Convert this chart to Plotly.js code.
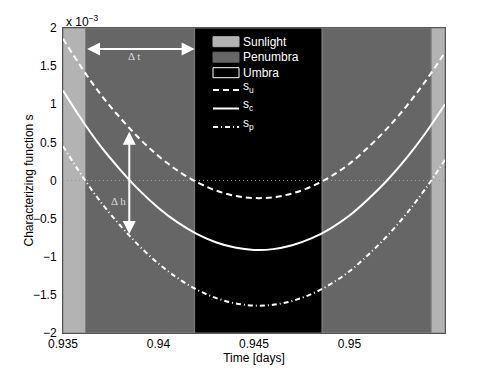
<!DOCTYPE html>
<html>
<head>
<meta charset="utf-8">
<script src="https://cdn.plot.ly/plotly-3.0.1.min.js"></script>
<style>
  html, body { margin: 0; padding: 0; background: #fff; }
  #chart1 { width: 491px; height: 376px; }
</style>
</head>
<body>
<div id="chart1"></div>
<script>
// values, y in units of 1e-3
var times = [0.935, 0.936, 0.937, 0.938, 0.939, 0.940, 0.941, 0.942, 0.943, 0.944, 0.945,
             0.946, 0.947, 0.948, 0.949, 0.950, 0.951, 0.952, 0.953, 0.954, 0.955];
var s_u = [1.86, 1.47, 1.12, 0.82, 0.55, 0.32, 0.13, -0.02, -0.13, -0.20, -0.23,
           -0.22, -0.17, -0.08, 0.05, 0.22, 0.44, 0.69, 0.98, 1.31, 1.68];
var s_c = [1.18, 0.79, 0.44, 0.14, -0.13, -0.36, -0.55, -0.70, -0.81, -0.88, -0.91,
           -0.90, -0.85, -0.76, -0.63, -0.46, -0.24, 0.01, 0.30, 0.63, 1.00];
var s_p = [0.45, 0.06, -0.29, -0.59, -0.86, -1.09, -1.28, -1.43, -1.54, -1.61, -1.64,
           -1.63, -1.58, -1.49, -1.36, -1.19, -0.97, -0.72, -0.43, -0.10, 0.27];

// eclipse regions
var bandEdges = [0.935, 0.93618, 0.94189, 0.94857, 0.95428, 0.955];
var bandKinds = ['Sunlight', 'Penumbra', 'Umbra', 'Penumbra', 'Sunlight'];

// delta arrows: [x0, y0, x1, y1]
var deltaT = [0.93618, 1.725, 0.94189, 1.725];
var deltaH = [0.93847, 0.66, 0.93847, -0.70];

var xTicks = [0.935, 0.94, 0.945, 0.95];
var xTickText = ['0.935', '0.94', '0.945', '0.95'];
var yTicks = [-2, -1.5, -1, -0.5, 0, 0.5, 1, 1.5, 2];
var yTickText = ['\u22122', '\u22121.5', '\u22121', '\u22120.5', '0', '0.5', '1', '1.5', '2'];

var legendLabels = ['Sunlight', 'Penumbra', 'Umbra', 's<sub>u</sub>', 's<sub>c</sub>', 's<sub>p</sub>'];

var bandColor = { Sunlight: '#b3b3b3', Penumbra: '#666666', Umbra: '#000000' };
var font = 'Liberation Sans, Arial, Helvetica, sans-serif';
var serif = 'Liberation Serif, Times New Roman, serif';

// pixel -> paper helpers (plot area 63..445 x 28..333)
function px(x) { return (x - 63) / 382; }
function py(y) { return (333 - y) / 305; }

var shapes = [];
for (var i = 0; i < bandKinds.length; i++) {
    shapes.push({
        type: 'rect', xref: 'x', yref: 'paper', layer: 'below',
        x0: bandEdges[i], x1: bandEdges[i + 1], y0: 0, y1: 1,
        fillcolor: bandColor[bandKinds[i]],
        line: { color: '#808080', width: 1 }
    });
}
// zero line
shapes.push({
    type: 'line', xref: 'paper', yref: 'y', layer: 'below',
    x0: 0, x1: 1, y0: 0, y1: 0,
    line: { color: '#9a9a9a', width: 1, dash: '1px,3px' }
});

// hand made legend
var swatchY = [41.7, 57.2, 72.7];
for (var j = 0; j < 3; j++) {
    shapes.push({
        type: 'rect', xref: 'paper', yref: 'paper',
        x0: px(213), x1: px(239), y0: py(swatchY[j] - 5), y1: py(swatchY[j] + 5),
        fillcolor: bandColor[legendLabels[j]],
        line: { color: j == 2 ? '#ffffff' : bandColor[legendLabels[j]], width: 1 }
    });
}
var lineY = [90, 108.5, 127];
var lineDash = ['6px,4px', 'solid', '5px,3px,1px,3px'];
for (var k = 0; k < 3; k++) {
    shapes.push({
        type: 'line', xref: 'paper', yref: 'paper',
        x0: px(213), x1: px(239), y0: py(lineY[k]), y1: py(lineY[k]),
        line: { color: '#ffffff', width: 2, dash: lineDash[k] }
    });
}

var annotations = [];
var labelY = [41.7, 57.2, 72.7, 87, 105.5, 124];
for (var m = 0; m < legendLabels.length; m++) {
    annotations.push({
        xref: 'paper', yref: 'paper', x: px(241), y: py(labelY[m]),
        xanchor: 'left', yanchor: 'middle', showarrow: false,
        text: legendLabels[m],
        font: { family: font, size: 12, color: '#ffffff' }
    });
}

// exponent label
annotations.push({
    xref: 'paper', yref: 'paper', x: px(64), y: py(21),
    xanchor: 'left', yanchor: 'middle', showarrow: false,
    text: 'x 10<sup>\u22123</sup>',
    font: { family: font, size: 12, color: '#000000' }
});

// y title, placed by hand to sit close to the tick labels like the original
annotations.push({
    xref: 'paper', yref: 'paper', x: px(28), y: 0.5,
    xanchor: 'center', yanchor: 'middle', showarrow: false, textangle: -90,
    text: 'Characterizing function s',
    font: { family: font, size: 12, color: '#000000' }
});

// arrows
annotations.push({
    xref: 'x', yref: 'y', axref: 'x', ayref: 'y',
    x: deltaT[2], y: deltaT[3], ax: deltaT[0], ay: deltaT[1],
    text: '', showarrow: true, arrowside: 'end+start',
    arrowhead: 2, startarrowhead: 2, arrowsize: 1.3, startarrowsize: 1.3,
    arrowwidth: 2, arrowcolor: '#ffffff', standoff: 0, startstandoff: 0
});
annotations.push({
    xref: 'x', yref: 'y', axref: 'x', ayref: 'y',
    x: deltaH[2], y: deltaH[3], ax: deltaH[0], ay: deltaH[1],
    text: '', showarrow: true, arrowside: 'end+start',
    arrowhead: 2, startarrowhead: 2, arrowsize: 1.3, startarrowsize: 1.3,
    arrowwidth: 2, arrowcolor: '#ffffff', standoff: 0, startstandoff: 0
});
annotations.push({
    xref: 'x', yref: 'y', x: 0.93874, y: 1.63, showarrow: false,
    text: '\u0394 t', font: { family: serif, size: 11, color: '#dddddd' }
});
annotations.push({
    xref: 'x', yref: 'y', x: 0.9379, y: -0.27, showarrow: false,
    text: '\u0394 h', font: { family: serif, size: 11, color: '#dddddd' }
});

var trace_u = {
    x: times, y: s_u, mode: 'lines', type: 'scatter', name: 's_u',
    line: { color: '#ffffff', width: 2, dash: '6px,4px', shape: 'spline' }
};
var trace_c = {
    x: times, y: s_c, mode: 'lines', type: 'scatter', name: 's_c',
    line: { color: '#ffffff', width: 2, shape: 'spline' }
};
var trace_p = {
    x: times, y: s_p, mode: 'lines', type: 'scatter', name: 's_p',
    line: { color: '#ffffff', width: 2, dash: '5px,3px,1px,3px', shape: 'spline' }
};

var layout = {
    width: 491, height: 376,
    margin: { l: 63, r: 46, t: 28, b: 43 },
    paper_bgcolor: '#ffffff', plot_bgcolor: '#ffffff',
    showlegend: false,
    font: { family: font, size: 12, color: '#000000' },
    xaxis: {
        range: [0.935, 0.955], tickvals: xTicks, ticktext: xTickText,
        ticks: '', showgrid: false, zeroline: false,
        showline: true, mirror: true, linecolor: '#555555', linewidth: 1,
        title: { text: 'Time [days]', font: { family: font, size: 12 }, standoff: 2 }
    },
    yaxis: {
        range: [-2, 2], tickvals: yTicks, ticktext: yTickText,
        ticks: '', showgrid: false, zeroline: false,
        showline: true, mirror: true, linecolor: '#555555', linewidth: 1,
        ticklabelstandoff: 3
    },
    shapes: shapes,
    annotations: annotations
};

Plotly.newPlot('chart1', [trace_u, trace_c, trace_p], layout, { staticPlot: true });
</script>
</body>
</html>
